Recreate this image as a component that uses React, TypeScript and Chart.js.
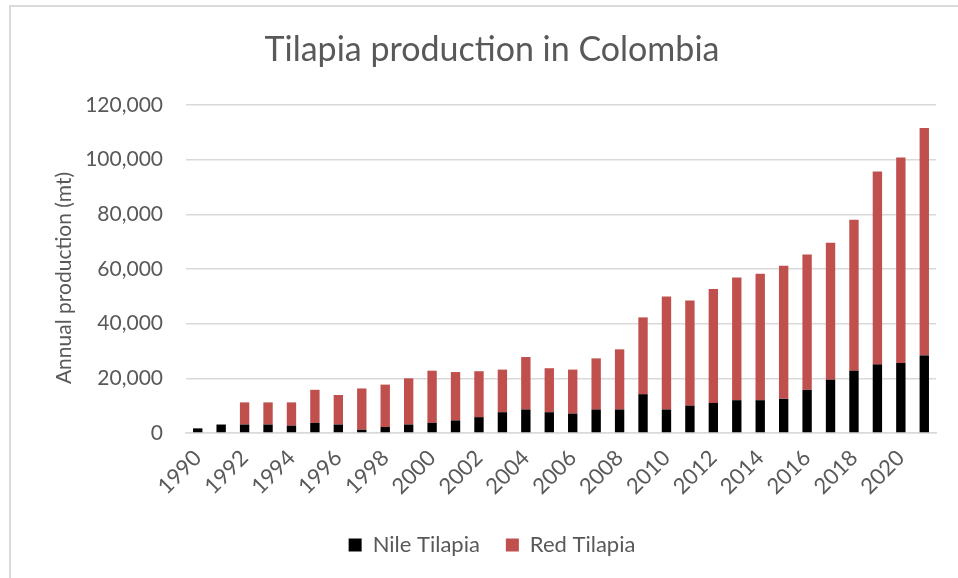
import React, { useEffect, useRef } from "react";
import { Chart, registerables } from "chart.js";

Chart.register(...registerables);

const years: string[] = [
  "1990", "1991", "1992", "1993", "1994", "1995", "1996", "1997",
  "1998", "1999", "2000", "2001", "2002", "2003", "2004", "2005",
  "2006", "2007", "2008", "2009", "2010", "2011", "2012", "2013",
  "2014", "2015", "2016", "2017", "2018", "2019", "2020", "2021",
];

const nileTilapia: number[] = [
  1700, 3100, 3100, 3100, 2700, 3700, 3100, 1200,
  2200, 3100, 3700, 4600, 5800, 7600, 8600, 7600,
  7100, 8600, 8600, 14200, 8600, 10000, 11000, 12000,
  12000, 12500, 15800, 19500, 22800, 25100, 25600, 28400,
];

const redTilapia: number[] = [
  0, 0, 8100, 8100, 8500, 12100, 10800, 15100,
  15500, 16900, 19100, 17700, 16800, 15600, 19200, 16100,
  16100, 18700, 22000, 28100, 41300, 38500, 41700, 44900,
  46300, 48700, 49500, 50100, 55200, 70600, 75200, 83200,
];

const yTicks = { min: 0, max: 120000, step: 20000 };

const chartTitle = "Tilapia production in Colombia";
const yAxisTitle = "Annual production (mt)";

const TEXT = "#595959";
const GRID = "#d9d9d9";
const FONT = "Lato, 'Open Sans', sans-serif";

// Rotated y-axis caption, placed beside the tick labels
const yTitlePlugin = {
  id: "yTitle",
  afterDraw(chart: Chart) {
    const { ctx, chartArea } = chart;
    ctx.save();
    ctx.translate(53, (chartArea.top + chartArea.bottom) / 2 + 9);
    ctx.rotate(-Math.PI / 2);
    ctx.font = `21px ${FONT}`;
    ctx.fillStyle = TEXT;
    ctx.textAlign = "center";
    ctx.textBaseline = "middle";
    ctx.fillText(yAxisTitle, 0, 0);
    ctx.restore();
  },
};

export default function App() {
  const canvasRef = useRef<HTMLCanvasElement | null>(null);

  useEffect(() => {
    if (!canvasRef.current) return;
    Chart.defaults.font.family = FONT;
    Chart.defaults.color = TEXT;

    const chart = new Chart(canvasRef.current, {
      type: "bar",
      data: {
        labels: years,
        datasets: [
          {
            label: "Nile Tilapia",
            data: nileTilapia,
            backgroundColor: "#000000",
            barPercentage: 0.4,
            categoryPercentage: 1,
          },
          {
            label: "Red Tilapia",
            data: redTilapia,
            backgroundColor: "#c0504d",
            barPercentage: 0.4,
            categoryPercentage: 1,
          },
        ],
      },
      options: {
        animation: false,
        responsive: true,
        maintainAspectRatio: false,
        layout: { padding: { left: 0, right: 0, top: 0, bottom: 21 } },
        plugins: {
          title: {
            display: true,
            text: chartTitle,
            color: TEXT,
            font: { size: 34, weight: "normal", family: FONT },
            padding: { top: 22.6, bottom: 34.6 },
          },
          legend: {
            position: "bottom",
            labels: {
              boxWidth: 13,
              boxHeight: 13,
              padding: 26,
              color: TEXT,
              font: { size: 22, family: FONT },
            },
          },
          tooltip: { enabled: false },
        },
        scales: {
          x: {
            stacked: true,
            grid: { display: false },
            border: { display: true, color: GRID, width: 1.5 },
            ticks: {
              autoSkip: false,
              maxRotation: 45,
              minRotation: 45,
              padding: 4,
              color: TEXT,
              font: { size: 22, family: FONT },
              callback: (_v: any, i: number) => (i % 2 === 0 ? years[i] : ""),
            },
            afterFit: (scale: any) => {
              scale.height = 75;
            },
          },
          y: {
            stacked: true,
            min: yTicks.min,
            max: yTicks.max,
            border: { display: false },
            grid: { color: GRID, lineWidth: 1.5, drawTicks: false },
            ticks: {
              stepSize: yTicks.step,
              padding: 23,
              color: TEXT,
              font: { size: 21, family: FONT },
              callback: (v: any) => Number(v).toLocaleString("en-US"),
            },
            afterFit: (scale: any) => {
              scale.width = 175;
            },
          },
          // empty right-hand margin beside the plot
          yRight: {
            position: "right",
            display: true,
            grid: { display: false },
            border: { display: false },
            ticks: { display: false },
            afterFit: (scale: any) => {
              scale.width = 37;
            },
          },
        },
      },
      plugins: [yTitlePlugin],
    });

    return () => chart.destroy();
  }, []);

  return (
    <div
      style={{
        position: "fixed",
        left: 0,
        top: 0,
        width: 958,
        height: 578,
        overflow: "hidden",
        background: "#ffffff",
      }}
    >
      <div
        style={{
          position: "absolute",
          left: 9,
          top: 5,
          width: 962,
          height: 580,
          borderTop: `2px solid ${GRID}`,
          borderLeft: `2px solid ${GRID}`,
        }}
      >
        <canvas ref={canvasRef} />
      </div>
    </div>
  );
}
